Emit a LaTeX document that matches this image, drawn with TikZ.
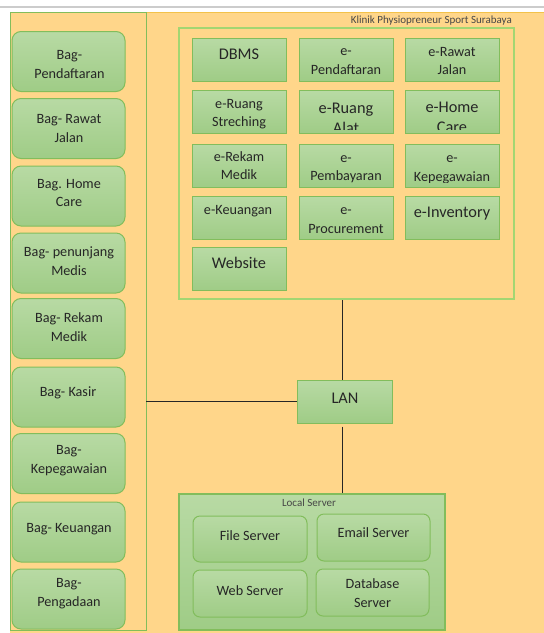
\documentclass[tikz,border=0pt]{standalone}
\usepackage{fontspec}
\setmainfont{Carlito}
\definecolor{bgor}{HTML}{FFD68A}
\definecolor{goldline}{HTML}{F3C24A}
\definecolor{gbord}{HTML}{82BD5C}
\definecolor{gtop}{HTML}{B8DAA4}
\definecolor{gbot}{HTML}{9FCC86}
\definecolor{appline}{HTML}{A3D672}
\definecolor{txtc}{HTML}{262626}
\begin{document}
\begin{tikzpicture}[x=1pt,y=-1pt,
  gbox/.style={draw=gbord, line width=1pt, top color=gtop, bottom color=gbot, inner sep=0pt},
  bagbox/.style={gbox, rounded corners=9pt, minimum width=113pt, minimum height=60pt},
  appbox/.style={gbox, minimum width=94pt, minimum height=43pt},
  srvbox/.style={gbox, rounded corners=7pt, minimum width=114pt, minimum height=46pt},
  tnorm/.style={text=txtc, align=center, inner sep=0pt, font=\fontsize{14.2}{18.5}\selectfont},
  tbig/.style={text=txtc, align=center, inner sep=0pt, font=\fontsize{16.3}{20}\selectfont},
  tsmall/.style={text=txtc!85, inner sep=0pt, font=\fontsize{11}{13}\selectfont},
  conn/.style={draw=black!85, line width=1pt}]
\useasboundingbox (0,0) rectangle (544,633);
% background
\draw[gray!40, line width=1.5pt] (0,7) -- (544,7);
\fill[bgor] (10,12) rectangle (544,633);
\draw[goldline, line width=1pt] (146,12) -- (544,12);
% left panel
\node[draw=gbord, line width=0.8pt, minimum width=136pt, minimum height=618pt, inner sep=0pt] (left) at (78,321) {};
% left boxes
\node[bagbox] (b1) at (68.5,61.5) {};
\node[bagbox] (b2) at (68.5,128.5) {};
\node[bagbox] (b3) at (68.5,196) {};
\node[bagbox] (b4) at (68.5,263) {};
\node[bagbox] (b5) at (68.5,328.5) {};
\node[bagbox] (b6) at (68.5,397) {};
\node[bagbox] (b7) at (68.5,463.5) {};
\node[bagbox] (b8) at (68.5,532) {};
\node[bagbox] (b9) at (68.5,599) {};
\node[tnorm] (tb1) at (69.5,64.5) {Bag-\\Pendaftaran};
\node[tnorm] (tb2) at (69,128.5) {Bag- Rawat\\Jalan};
\node[tnorm] (tb3) at (69,193) {Bag. Home\\Care};
\node[tnorm] (tb4) at (69,261) {Bag- penunjang\\Medis};
\node[tnorm] (tb5) at (69,327) {Bag- Rekam\\Medik};
\node[tnorm] (tb6) at (68,393) {Bag- Kasir};
\node[tnorm] (tb7) at (69,460.5) {Bag-\\Kepegawaian};
\node[tnorm] (tb8) at (69,529) {Bag- Keuangan};
\node[tnorm] (tb9) at (69,593.5) {Bag-\\Pengadaan};
% title
\node[tsmall, anchor=east] (title) at (512,21) {Klinik Physiopreneur Sport Surabaya};
% apps container
\node[draw=appline, line width=1.5pt, minimum width=335pt, minimum height=271pt, inner sep=0pt] (apps) at (346.5,163.5) {};
% app boxes
\node[appbox] (a11) at (239,59.5) {};
\node[appbox] (a12) at (346,59.5) {};
\node[appbox] (a13) at (452,59.5) {};
\node[appbox] (a21) at (239,112) {};
\node[appbox] (a22) at (346,112) {};
\node[appbox] (a23) at (452,112) {};
\node[appbox] (a31) at (239,165.5) {};
\node[appbox] (a32) at (346,165.5) {};
\node[appbox] (a33) at (452,165.5) {};
\node[appbox] (a41) at (239,218) {};
\node[appbox] (a42) at (346,218) {};
\node[appbox] (a43) at (452,218) {};
\node[appbox] (a51) at (239,269) {};
% app texts (clipped to the text area of each box)
\begin{scope}\clip (a11.north west) rectangle ([yshift=5pt]a11.south east);
\node[tbig] (ta11) at (239,54) {DBMS};\end{scope}
\begin{scope}\clip (a12.north west) rectangle ([yshift=5pt]a12.south east);
\node[tnorm] (ta12) at (346,61.5) {e-\\Pendaftaran};\end{scope}
\begin{scope}\clip (a13.north west) rectangle ([yshift=5pt]a13.south east);
\node[tnorm] (ta13) at (452,61) {e-Rawat\\Jalan};\end{scope}
\begin{scope}\clip (a21.north west) rectangle ([yshift=5pt]a21.south east);
\node[tnorm] (ta21) at (239,114) {e-Ruang\\Streching};\end{scope}
\begin{scope}\clip (a22.north west) rectangle ([yshift=5pt]a22.south east);
\node[tbig] (ta22) at (346,118) {e-Ruang\\Alat};\end{scope}
\begin{scope}\clip (a23.north west) rectangle ([yshift=5pt]a23.south east);
\node[tbig] (ta23) at (452,117) {e-Home\\Care};\end{scope}
\begin{scope}\clip (a31.north west) rectangle ([yshift=5pt]a31.south east);
\node[tnorm] (ta31) at (239,165.5) {e-Rekam\\Medik};\end{scope}
\begin{scope}\clip (a32.north west) rectangle ([yshift=5pt]a32.south east);
\node[tnorm] (ta32) at (346,169) {e-\\Pembayaran};\end{scope}
\begin{scope}\clip (a33.north west) rectangle ([yshift=5pt]a33.south east);
\node[tnorm] (ta33) at (452,170) {e-\\Kepegawaian};\end{scope}
\begin{scope}\clip (a41.north west) rectangle ([yshift=5pt]a41.south east);
\node[tnorm] (ta41) at (238,211) {e-Keuangan};\end{scope}
\begin{scope}\clip (a42.north west) rectangle ([yshift=5pt]a42.south east);
\node[tnorm] (ta42) at (346,220.5) {e-\\Procurement};\end{scope}
\begin{scope}\clip (a43.north west) rectangle ([yshift=5pt]a43.south east);
\node[tbig] (ta43) at (452,214) {e-Inventory};\end{scope}
\begin{scope}\clip (a51.north west) rectangle ([yshift=5pt]a51.south east);
\node[tbig] (ta51) at (239,263) {Website};\end{scope}
% LAN
\node[gbox, minimum width=95pt, minimum height=43pt] (lan) at (344.5,401.5) {};
\node[tbig] (tlan) at (345,398) {LAN};
% local server
\node[gbox, line width=1.2pt, minimum width=266pt, minimum height=136pt] (local) at (312,562) {};
\node[tsmall] (tlocal) at (309,503) {Local Server};
\node[srvbox] (s1) at (250,539) {};
\node[srvbox, minimum width=113pt, minimum height=47pt] (s2) at (373.5,537.5) {};
\node[srvbox, minimum height=47pt] (s3) at (250,593.5) {};
\node[srvbox, minimum width=113pt, minimum height=47pt] (s4) at (372.5,592.5) {};
\node[tnorm] (ts1) at (250,536) {File Server};
\node[tnorm] (ts2) at (373.5,533) {Email Server};
\node[tnorm] (ts3) at (250,591) {Web Server};
\node[tnorm] (ts4) at (372.5,593) {Database\\Server};
% connectors
\draw[conn] (lan.west) -- (lan.west -| left.east);
\draw[conn] ([xshift=-2.5pt]lan.north) -- ([xshift=-2.5pt]lan.north |- apps.south);
\draw[conn] ([xshift=-2.5pt,yshift=-3pt]lan.south) -- ([xshift=-2.5pt]lan.south |- local.north);
\end{tikzpicture}
\end{document}
